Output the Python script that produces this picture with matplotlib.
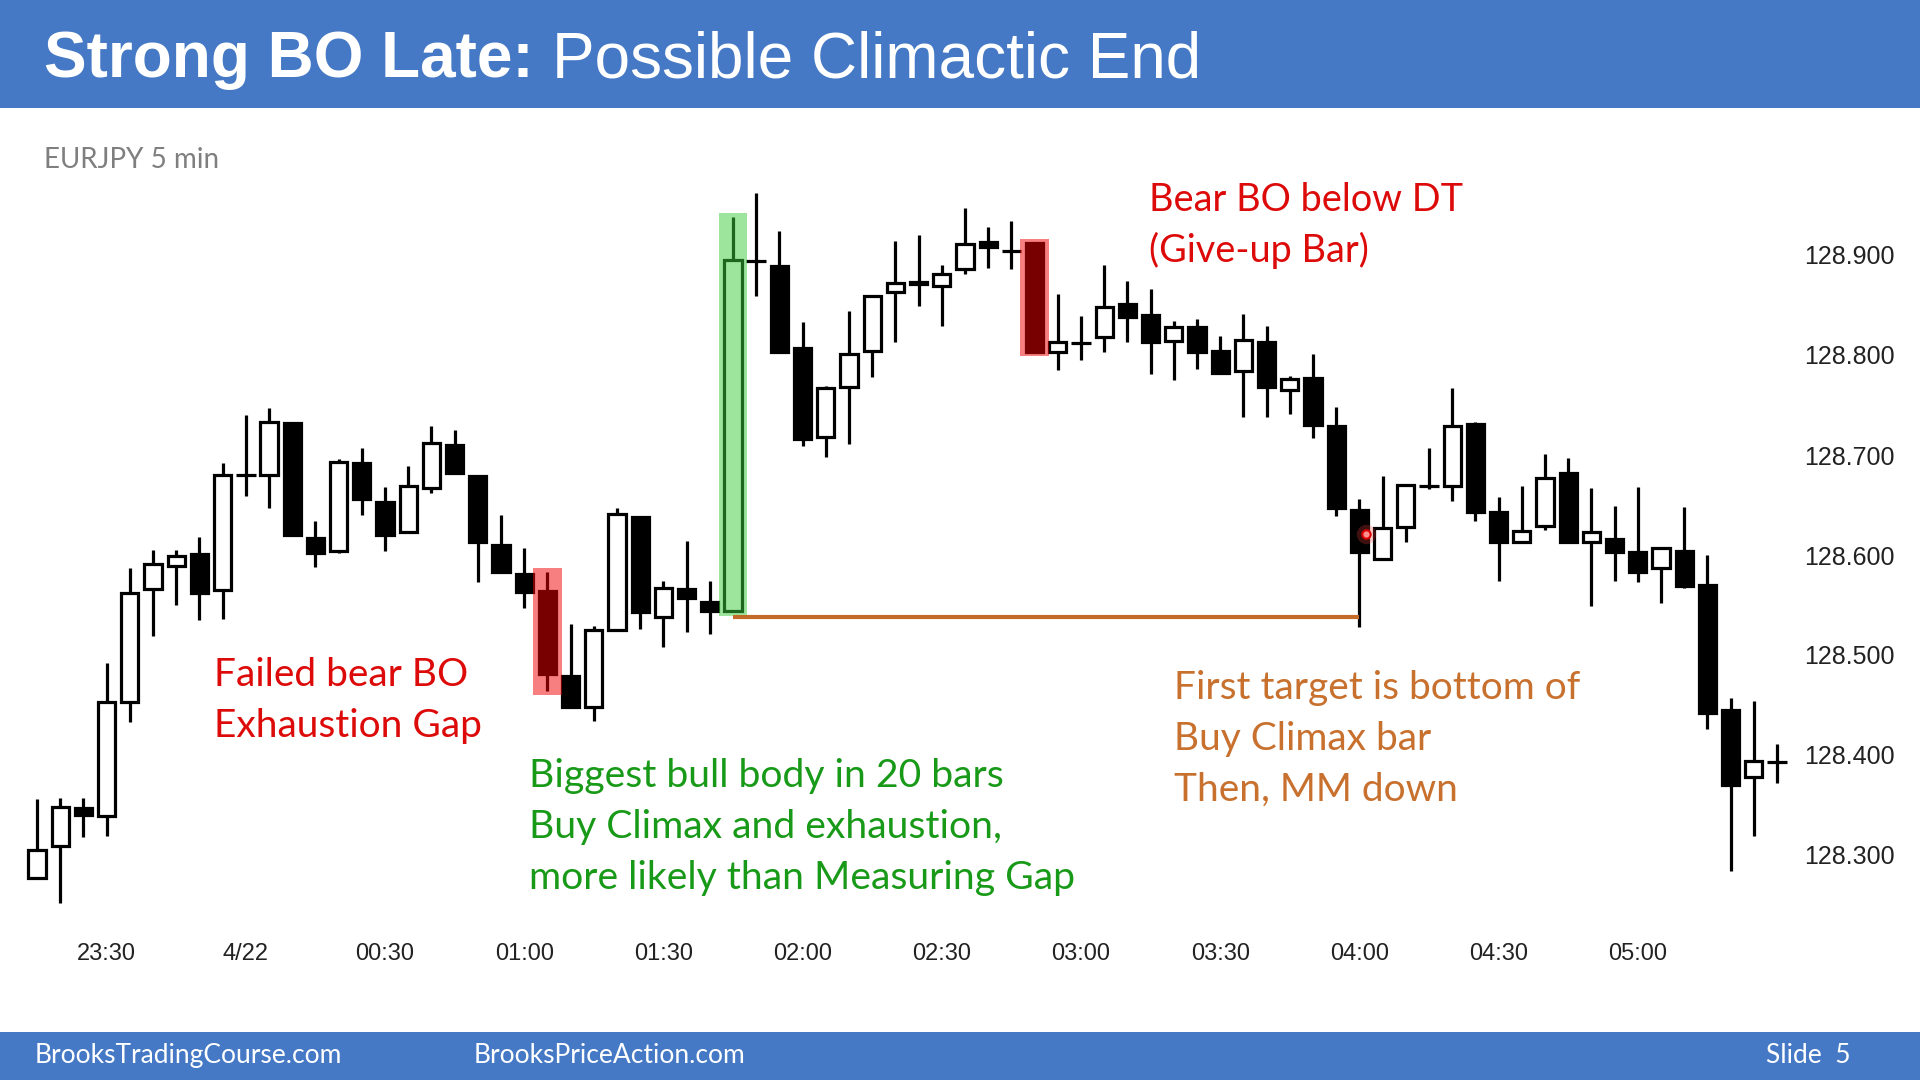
import matplotlib
matplotlib.use('Agg')
import matplotlib.pyplot as plt
from matplotlib.patches import Rectangle

# EURJPY 5 min bars, 23:15 .. 05:30
opens = [128.277, 128.309, 128.347, 128.339, 128.453, 128.566, 128.589, 128.601, 128.565, 128.680,
         128.680, 128.732, 128.617, 128.604, 128.692, 128.653, 128.623, 128.667, 128.710, 128.679,
         128.610, 128.581, 128.564, 128.479, 128.448, 128.525, 128.638, 128.538, 128.566, 128.553,
         128.544, 128.894, 128.889, 128.807, 128.718, 128.768, 128.804, 128.863, 128.873, 128.869,
         128.886, 128.913, 128.904, 128.912, 128.803, 128.812, 128.818, 128.851, 128.840, 128.814,
         128.828, 128.804, 128.784, 128.813, 128.765, 128.777, 128.729, 128.645, 128.596, 128.628,
         128.669, 128.669, 128.731, 128.643, 128.613, 128.629, 128.682, 128.613, 128.616, 128.603,
         128.587, 128.604, 128.570, 128.445, 128.378, 128.393]
highs = [128.356, 128.357, 128.357, 128.492, 128.587, 128.605, 128.605, 128.618, 128.692, 128.740,
         128.747, 128.732, 128.634, 128.696, 128.707, 128.668, 128.689, 128.729, 128.725, 128.680,
         128.640, 128.607, 128.583, 128.531, 128.529, 128.647, 128.639, 128.574, 128.614, 128.574,
         128.938, 128.962, 128.924, 128.833, 128.769, 128.844, 128.859, 128.914, 128.920, 128.890,
         128.947, 128.928, 128.934, 128.912, 128.861, 128.839, 128.890, 128.874, 128.866, 128.834,
         128.836, 128.819, 128.841, 128.829, 128.779, 128.801, 128.748, 128.656, 128.679, 128.670,
         128.707, 128.767, 128.733, 128.658, 128.669, 128.701, 128.697, 128.667, 128.649, 128.668,
         128.607, 128.648, 128.600, 128.457, 128.454, 128.411]
lows = [128.276, 128.252, 128.318, 128.319, 128.433, 128.519, 128.550, 128.535, 128.536, 128.659,
        128.647, 128.620, 128.588, 128.602, 128.640, 128.604, 128.623, 128.662, 128.682, 128.573,
        128.583, 128.547, 128.464, 128.448, 128.434, 128.525, 128.526, 128.508, 128.523, 128.521,
        128.543, 128.859, 128.803, 128.709, 128.698, 128.711, 128.778, 128.813, 128.849, 128.829,
        128.881, 128.887, 128.886, 128.803, 128.785, 128.795, 128.803, 128.813, 128.781, 128.775,
        128.786, 128.781, 128.738, 128.738, 128.741, 128.717, 128.639, 128.528, 128.596, 128.613,
        128.666, 128.654, 128.634, 128.574, 128.613, 128.625, 128.613, 128.549, 128.574, 128.573,
        128.552, 128.567, 128.426, 128.284, 128.319, 128.372]
closes = [128.305, 128.348, 128.340, 128.453, 128.562, 128.591, 128.599, 128.562, 128.680, 128.680,
          128.733, 128.620, 128.602, 128.693, 128.656, 128.620, 128.669, 128.712, 128.682, 128.613,
          128.583, 128.563, 128.481, 128.448, 128.525, 128.641, 128.543, 128.567, 128.557, 128.544,
          128.895, 128.894, 128.803, 128.716, 128.767, 128.801, 128.859, 128.872, 128.871, 128.881,
          128.911, 128.908, 128.904, 128.803, 128.813, 128.812, 128.848, 128.838, 128.813, 128.828,
          128.803, 128.782, 128.815, 128.768, 128.776, 128.730, 128.647, 128.603, 128.627, 128.670,
          128.669, 128.729, 128.643, 128.613, 128.624, 128.677, 128.613, 128.623, 128.603, 128.583,
          128.607, 128.569, 128.442, 128.370, 128.394, 128.393]

time_labels = ['23:30', '4/22', '00:30', '01:00', '01:30', '02:00',
               '02:30', '03:00', '03:30', '04:00', '04:30', '05:00']
time_label_bars = [3, 9, 15, 21, 27, 33, 39, 45, 51, 57, 63, 69]
price_ticks = [128.3, 128.4, 128.5, 128.6, 128.7, 128.8, 128.9]

red_bars = [22, 43]        # bear bars highlighted in red
green_bars = [30]          # buy climax bar
target_from, target_to = 30, 57   # bottom of buy climax bar -> later test
target_price = 128.538
cursor_x, cursor_y = 57.3, 128.621

failed_lines = ['Failed bear BO', 'Exhaustion Gap']
climax_lines = ['Biggest bull body in 20 bars', 'Buy Climax and exhaustion,',
                'more likely than Measuring Gap']
bear_lines = ['Bear BO below DT', '(Give-up Bar)']
target_lines = ['First target is bottom of', 'Buy Climax bar', 'Then, MM down']

W, H = 1920, 1080
BLUE = '#4579C5'
RED = '#DD0A0A'
GREEN = '#189A18'
ORANGE = '#C8702E'
SANS = ['Lato', 'DejaVu Sans']
ARIAL = ['Liberation Sans', 'DejaVu Sans']


def fx(px):
    return px / W


def fy(py):
    return 1 - py / H


fig = plt.figure(figsize=(19.2, 10.8), dpi=100)
fig.patch.set_facecolor('white')

# chart axes: pixel box x 0..1800, y 130..930, bar i at x = 37 + 23.2*i
ax = fig.add_axes([0, fy(930), fx(1800), (930 - 130) / H])
ax.set_xlim(-37 / 23.2, (1800 - 37) / 23.2)
ax.set_ylim(128.9 - (930 - 255) / 1000, 128.9 + (255 - 130) / 1000)
for s in ax.spines.values():
    s.set_visible(False)

for i in range(len(opens)):
    o, hi, lo, c = opens[i], highs[i], lows[i], closes[i]
    ax.vlines(i, lo, hi, color='black', lw=2.3, capstyle='butt', zorder=2)
    if abs(c - o) < 0.0005:
        ax.hlines(c, i - 0.42, i + 0.42, color='black', lw=2.3, zorder=3)
    else:
        ax.add_patch(Rectangle((i - 0.37, min(o, c)), 0.74, abs(c - o),
                               facecolor='white' if c > o else 'black',
                               edgecolor='black', lw=2.3, zorder=3))

pad = 0.004
for i in red_bars:
    ax.add_patch(Rectangle((i - 0.61, lows[i] - pad), 1.22, highs[i] - lows[i] + 2 * pad,
                           facecolor='#F00000', alpha=0.5, lw=0, zorder=4))
for i in green_bars:
    ax.add_patch(Rectangle((i - 0.61, lows[i] - pad), 1.22, highs[i] - lows[i] + 2 * pad,
                           facecolor='#3CCC3C', alpha=0.5, lw=0, zorder=4))

ax.hlines(target_price, target_from, target_to, color='#C46A28', lw=3, zorder=5)

ax.plot(cursor_x, cursor_y, 'o', ms=14, color='#FF4040', alpha=0.25, mec='none', zorder=6)
ax.plot(cursor_x, cursor_y, 'o', ms=6, mfc='#FF9090', mec='#E00000', mew=1.5, zorder=6)

ax.yaxis.tick_right()
ax.set_yticks(price_ticks)
ax.set_yticklabels(['%.3f' % p for p in price_ticks])
ax.set_xticks(time_label_bars)
ax.set_xticklabels(time_labels)
ax.tick_params(axis='y', length=0, pad=3, labelsize=18, labelcolor='#222222')
ax.tick_params(axis='x', length=0, pad=9, labelsize=17, labelcolor='#222222')
for lab in ax.get_xticklabels() + ax.get_yticklabels():
    lab.set_family(ARIAL)

# header and footer bands
fig.add_artist(Rectangle((0, fy(108)), 1, 108 / H, transform=fig.transFigure,
                         facecolor=BLUE, lw=0, zorder=0))
fig.add_artist(Rectangle((0, 0), 1, 48 / H, transform=fig.transFigure,
                         facecolor=BLUE, lw=0, zorder=0))

fig.text(fx(44), fy(77), 'Strong BO Late:', color='white', fontsize=46,
         fontweight='bold', family=ARIAL, va='baseline')
fig.text(fx(552), fy(77), 'Possible Climactic End', color='white', fontsize=46,
         family=ARIAL, va='baseline')

fig.text(fx(44), fy(168), 'EURJPY 5 min', color='#7F7F7F', fontsize=20,
         family=SANS, va='baseline')

for k, t in enumerate(failed_lines):
    fig.text(fx(214), fy(686 + 51 * k), t, color=RED, fontsize=28, family=SANS, va='baseline')
for k, t in enumerate(climax_lines):
    fig.text(fx(529), fy(787 + 51 * k), t, color=GREEN, fontsize=28.2, family=SANS, va='baseline')
for k, t in enumerate(bear_lines):
    fig.text(fx(1149), fy(211 + 51 * k), t, color=RED, fontsize=27.3, family=SANS, va='baseline')
for k, t in enumerate(target_lines):
    fig.text(fx(1174), fy(699 + 51 * k), t, color=ORANGE, fontsize=28, family=SANS, va='baseline')

fig.text(fx(35), fy(1063), 'BrooksTradingCourse.com', color='white', fontsize=19,
         family=SANS, va='baseline')
fig.text(fx(474), fy(1063), 'BrooksPriceAction.com', color='white', fontsize=19,
         family=SANS, va='baseline')
fig.text(fx(1851), fy(1063), 'Slide  5', color='white', fontsize=19,
         family=SANS, va='baseline', ha='right')

fig.savefig('out.png', dpi=100)
